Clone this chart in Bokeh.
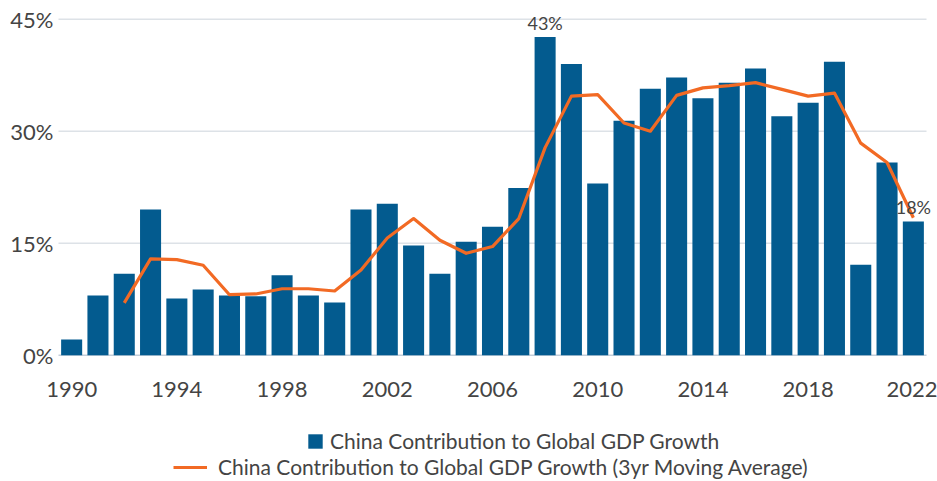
import math
from bokeh.plotting import figure
from bokeh.models import (Range1d, FixedTicker, Legend, LegendItem,
                          ColumnDataSource, PrintfTickFormatter, LabelSet)
from bokeh.core.properties import value
from bokeh.embed import file_html
from bokeh.resources import INLINE

# ---- data ----
years = [1990, 1991, 1992, 1993, 1994, 1995, 1996, 1997, 1998, 1999,
         2000, 2001, 2002, 2003, 2004, 2005, 2006, 2007, 2008, 2009,
         2010, 2011, 2012, 2013, 2014, 2015, 2016, 2017, 2018, 2019,
         2020, 2021, 2022]
contribution = [2.1, 8.0, 10.9, 19.5, 7.6, 8.8, 8.0, 7.9, 10.7, 8.0,
                7.05, 19.5, 20.3, 14.7, 10.9, 15.2, 17.2, 22.4, 42.6, 39.0,
                23.0, 31.4, 35.7, 37.2, 34.4, 36.5, 38.4, 32.0, 33.8, 39.3,
                12.1, 25.8, 17.9]
ma_years = [1992, 1993, 1994, 1995, 1996, 1997, 1998, 1999,
            2000, 2001, 2002, 2003, 2004, 2005, 2006, 2007, 2008, 2009,
            2010, 2011, 2012, 2013, 2014, 2015, 2016, 2017, 2018, 2019,
            2020, 2021, 2022]
moving_avg = [7.0, 12.9, 12.8, 12.05, 8.1, 8.2, 8.9, 8.9,
              8.6, 11.4, 15.7, 18.3, 15.4, 13.65, 14.55, 18.3, 27.8, 34.7,
              34.9, 31.1, 30.0, 34.8, 35.8, 36.1, 36.5, 35.6, 34.7, 35.1,
              28.4, 25.8, 18.4]
x_ticks = [1990, 1994, 1998, 2002, 2006, 2010, 2014, 2018, 2022]
y_ticks = [0, 15, 30, 45]
bar_label = "China Contribution to Global GDP Growth"
line_label = "China Contribution to Global GDP Growth (3yr Moving Average)"

BAR = "#035B8F"
LINE = "#F26A24"
TXT = "#444444"
GRID = "#DDE2E7"
BASE = "#C3CEDA"
FONT = "Lato"


def pct(v):
    return f"{math.floor(v + 0.5)}%"


# plot extent along x (half a bar slot either side of the data)
x_lo = years[0] - 0.5
x_hi = years[-1] + 0.5

# the frame covers the whole canvas; both axes are drawn at fixed positions
p = figure(width=937, height=481, output_backend="svg", toolbar_location=None,
           x_range=Range1d(1987.295, 2022.918), y_range=Range1d(-16.915, 47.504),
           min_border_left=0, min_border_right=0, min_border_top=0,
           min_border_bottom=0)
p.outline_line_color = None
p.background_fill_color = "white"
p.border_fill_color = "white"

# horizontal grid lines, limited to the plotting area
grid_y = [t for t in y_ticks if t != 0]
p.segment(x0=[x_lo] * len(grid_y), x1=[x_hi] * len(grid_y), y0=grid_y, y1=grid_y,
          line_color=GRID, line_width=1.5)
p.segment(x0=[x_lo], x1=[x_hi], y0=[0], y1=[0], line_color=BASE, line_width=1.5)

bars = p.vbar(x=years, top=contribution, width=0.8, color=BAR, line_color=None)
line = p.line(x=ma_years, y=moving_avg, line_color=LINE, line_width=3.2,
              line_join="round")

# data labels
imax = contribution.index(max(contribution))
lbl_src = ColumnDataSource(dict(
    x=[years[imax], ma_years[-1]],
    y=[contribution[imax], moving_avg[-1]],
    t=[pct(contribution[imax]), pct(moving_avg[-1])],
    dy=[7, 4]))
p.add_layout(LabelSet(x="x", y="y", text="t", source=lbl_src, y_offset="dy",
                      text_align="center", text_baseline="alphabetic",
                      text_font=value(FONT), text_font_size="18px",
                      text_color=TXT))

# axes
xa = p.xaxis[0]
xa.fixed_location = 0
xa.ticker = FixedTicker(ticks=x_ticks)
xa.major_tick_line_color = None
xa.minor_tick_line_color = None
xa.major_tick_out = 0
xa.major_tick_in = 0
xa.minor_tick_out = 0
xa.axis_line_color = None
xa.major_label_standoff = 27
xa.major_label_text_font = FONT
xa.major_label_text_font_size = "22px"
xa.major_label_text_color = TXT

ya = p.yaxis[0]
ya.fixed_location = x_lo
ya.ticker = FixedTicker(ticks=y_ticks)
ya.formatter = PrintfTickFormatter(format="%d%%")
ya.major_tick_line_color = None
ya.minor_tick_line_color = None
ya.major_tick_out = 0
ya.major_tick_in = 0
ya.minor_tick_out = 0
ya.axis_line_color = None
ya.major_label_standoff = 5
ya.major_label_text_font = FONT
ya.major_label_text_font_size = "22px"
ya.major_label_text_color = TXT

p.xgrid.grid_line_color = None
p.ygrid.grid_line_color = None

# legends (offsets in screen px from the frame's bottom-left corner)
common = dict(margin=0, padding=0, border_line_color=None,
              background_fill_alpha=0, label_text_font=FONT,
              label_text_font_size="21px", label_text_color=TXT,
              orientation="horizontal")
leg1 = Legend(items=[LegendItem(label=bar_label, renderers=[bars])],
              location=(306, 28), glyph_width=18, glyph_height=18,
              label_standoff=6, **common)
leg2 = Legend(items=[LegendItem(label=line_label, renderers=[line])],
              location=(173, 2), glyph_width=34, glyph_height=18,
              label_standoff=11, **common)
p.add_layout(leg1)
p.add_layout(leg2)

open("out.html", "w").write(file_html(p, INLINE))
